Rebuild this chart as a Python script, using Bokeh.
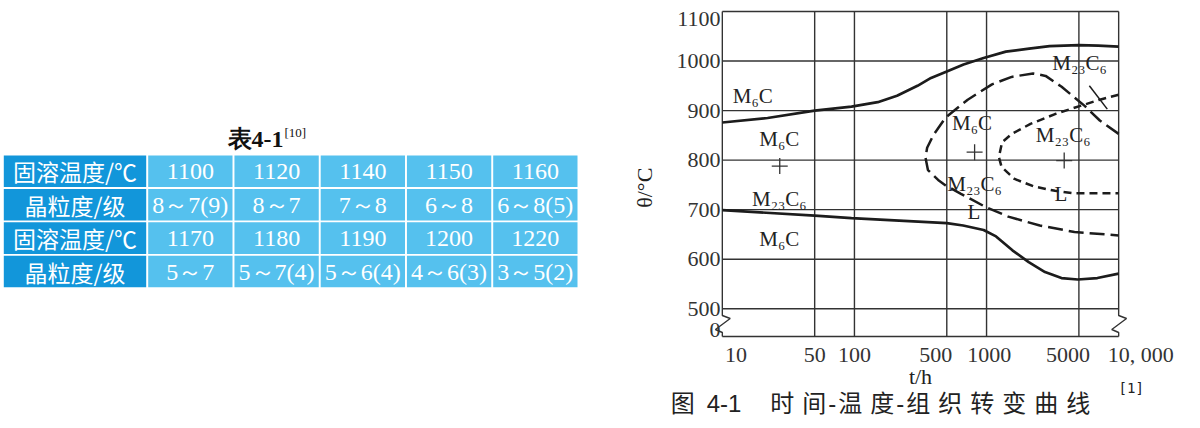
from bokeh.plotting import figure
from bokeh.layouts import row
from bokeh.models import Range1d, FixedTicker, LogAxis
from bokeh.core.properties import value
from bokeh.embed import file_html
from bokeh.resources import INLINE

# ---------------- table data ----------------
table_title = "表4-1"
table_ref = "[10]"
row_headers = ["固溶温度/℃", "晶粒度/级", "固溶温度/℃", "晶粒度/级"]
temps_a = [1100, 1120, 1140, 1150, 1160]
grain_a = ["8～7(9)", "8～7", "7～8", "6～8", "6～8(5)"]
temps_b = [1170, 1180, 1190, 1200, 1220]
grain_b = ["5～7", "5～7(4)", "5～6(4)", "4～6(3)", "3～5(2)"]

# ---------------- chart data ----------------
x_ticks = [10, 50, 100, 500, 1000, 5000, 10000]
x_tick_labels = ["10", "50", "100", "500", "1000", "5000", "10, 000"]
y_ticks = [500, 600, 700, 800, 900, 1000, 1100]
y_floor = 444          # bottom of the broken axis
y_floor_label = "0"

upper_t = [10, 22, 50, 95, 150, 210, 300, 380, 500, 670, 950, 1400, 2100, 3000, 5000, 7000, 10000]
upper_T = [876, 885, 900, 908, 917, 930, 950, 966, 979, 993, 1006, 1019, 1025, 1030, 1032, 1031, 1029]

lower_t = [10, 50, 95, 500, 665, 950, 1180, 1570, 2085, 2770, 3690, 4900, 6900, 10000]
lower_T = [699, 688, 683, 673, 668, 659, 646, 618, 594, 574, 562, 559, 562, 571]

cshape_t = [10000, 7200, 5500, 3700, 2800, 2250, 1550, 1100, 720, 490, 395, 355, 345, 360, 430, 490, 640, 990, 1460, 2530, 4630, 10000]
cshape_T = [853, 880, 910, 948, 970, 975, 968, 953, 922, 886, 850, 825, 805, 780, 760, 749, 732, 705, 686, 668, 655, 648]

inner_t = [10000, 7200, 5200, 3300, 2150, 1550, 1310, 1240, 1300, 1630, 2270, 3300, 4600, 7000, 10000]
inner_T = [932, 922, 910, 893, 873, 853, 836, 806, 786, 762, 747, 738, 733, 733, 733]

pointer_t = [6000, 8200]
pointer_T = [950, 903]

label_text = ["M₆C", "M₆C", "M₂₃C₆", "M₆C", "M₆C", "M₂₃C₆", "L", "M₂₃C₆", "L", "M₂₃C₆"]
label_t = [17, 27, 27, 27, 776, 812, 804, 3800, 3650, 5060]
label_T = [930, 842, 722, 641, 875, 751, 695, 851, 732, 996]

cross_t = [27.2, 812, 3870]
cross_T = [788, 816, 799]

caption = ("图\u20024-1\u3000\u2009时\u2004间\u200a-\u200a温\u2004度\u200a-\u200a"
           "组\u2004织\u2004转\u2004变\u2004曲\u2004线")
caption_ref = "[1]"

# ---------------- shared layout ----------------
FIG_H = 428
BORDER_TOP = 9
BORDER_BOTTOM = 90
TAB_W, CHART_W = 628, 572
frame_top_page = BORDER_TOP
frame_bot_page = FIG_H - BORDER_BOTTOM
NB = "\u00a0"

# ================= table figure (page-pixel coordinates) =================
tab = figure(width=TAB_W, height=FIG_H,
             x_range=Range1d(0, TAB_W),
             y_range=Range1d(frame_bot_page, frame_top_page),
             output_backend="svg", toolbar_location=None,
             min_border_left=0, min_border_right=0,
             min_border_top=BORDER_TOP, min_border_bottom=BORDER_BOTTOM)
tab.axis.visible = False
tab.grid.visible = False
tab.outline_line_color = None

head_l, head_r = 3.3, 145.7
data_left = 147.7
pitch_x = 86.25
cell_w = 84.3
top = 155.0
pitch_y = 33.4
cell_h = 31.6

rows_vals = [[str(v) for v in temps_a], grain_a, [str(v) for v in temps_b], grain_b]
cx, cy, cw, cc = [], [], [], []
hx, hy, ht = [], [], []
dx, dy, dt = [], [], []
for r in range(4):
    yc = top + r * pitch_y + cell_h / 2
    cx.append((head_l + head_r) / 2); cy.append(yc); cw.append(head_r - head_l); cc.append("#1296DA")
    hx.append((head_l + head_r) / 2); hy.append(yc); ht.append(row_headers[r])
    for c in range(5):
        xc = data_left + c * pitch_x + cell_w / 2
        cx.append(xc); cy.append(yc); cw.append(cell_w); cc.append("#55C1EE")
        dx.append(xc); dy.append(yc); dt.append(rows_vals[r][c])

tab.rect(x=cx, y=cy, width=cw, height=cell_h, fill_color=cc, line_color=None)
tab.text(x=hx, y=hy, text=ht, text_font=value("Noto Sans CJK SC"), text_font_size="23px",
         text_color="white", text_align="center", text_baseline="middle")
tab.text(x=dx, y=dy, text=dt, text_font=value("Liberation Serif"), text_font_size="24px",
         text_color="white", text_align="center", text_baseline="middle")
tab.text(x=[283], y=[138], text=[table_title], text_font=value("Liberation Serif"),
         text_font_size="24px", text_font_style="bold", text_color="#111",
         text_align="right", text_baseline="middle")
tab.text(x=[284], y=[132], text=[table_ref], text_font=value("Liberation Serif"),
         text_font_size="13px", text_color="#111", text_align="left", text_baseline="middle")

# ================= chart figure =================
DEC_PX = 403 / 3.0
PAD = 10
UPP = 2.016   # temperature units per pixel
pad_dec = PAD / DEC_PX
x_lo, x_hi = x_ticks[0], x_ticks[-1]
y_top = y_ticks[-1]

p = figure(width=CHART_W, height=FIG_H, x_axis_type="log",
           x_range=Range1d(x_lo * 10 ** (-pad_dec), x_hi * 10 ** pad_dec),
           y_range=Range1d(y_floor - 2 * UPP, y_top + 2 * UPP),
           output_backend="svg", toolbar_location=None,
           min_border_left=77, min_border_right=72,
           min_border_top=BORDER_TOP, min_border_bottom=BORDER_BOTTOM)
p.grid.visible = False
p.outline_line_color = None

ink = "#1c1c1c"
grid_c = "#333333"

n_h = len(y_ticks) + 1
p.segment(x0=[x_lo] * n_h, x1=[x_hi] * n_h, y0=y_ticks + [y_floor], y1=y_ticks + [y_floor],
          line_color=grid_c, line_width=1.4)
inner_x = x_ticks[1:-1]
p.segment(x0=inner_x, x1=inner_x, y0=[y_floor] * len(inner_x), y1=[y_top] * len(inner_x),
          line_color=grid_c, line_width=1.4)
brk = [(0, 21), (8, 18), (-7, 7), (0, 4), (0, 0)]
for xb in (x_lo, x_hi):
    bx = [xb] + [xb * 10 ** (d / DEC_PX) for d, _ in brk]
    by = [y_top] + [y_floor + h * UPP for _, h in brk]
    p.line(bx, by, line_color=grid_c, line_width=1.4)

p.line(upper_t, upper_T, line_color=ink, line_width=2.7)
p.line(lower_t, lower_T, line_color=ink, line_width=2.7)
p.line(cshape_t, cshape_T, line_color=ink, line_width=2.5, line_dash="15 6")
p.line(inner_t, inner_T, line_color=ink, line_width=2.5, line_dash="8 5")
p.line(pointer_t, pointer_T, line_color=ink, line_width=1.5)

p.scatter(cross_t, cross_T, marker="cross", size=16, line_color="#333", line_width=1.3)
p.text(x=label_t, y=label_T, text=label_text, text_font=value("Liberation Serif"),
       text_font_size="21px", text_color="#222", text_align="center", text_baseline="middle")

# ---- axes ----
x_label_shift = {10: 5, 500: -4, 1000: 1, 5000: -4, 10000: 8}   # nbsp padding (label placement)
def pad_label(t, lab):
    n = x_label_shift.get(t, 0)
    return NB * n + lab if n > 0 else lab + NB * (-n)
p.xaxis.ticker = FixedTicker(ticks=x_ticks)
p.xaxis.major_label_overrides = {t: pad_label(t, l) for t, l in zip(x_ticks, x_tick_labels)}

# y tick labels: the bottom "0" sits a little above the broken-axis floor,
# the top "1100" sits just below the top border (as in the original figure)
floor_lab_y = y_floor + 7 * UPP
top_lab_y = y_top - 8 * UPP
p.yaxis.ticker = FixedTicker(ticks=[floor_lab_y] + y_ticks[:-1] + [top_lab_y])
p.yaxis.major_label_overrides = {floor_lab_y: y_floor_label, top_lab_y: str(y_top)}

def style_axis(ax, label_size="22px", label_font="Liberation Serif"):
    ax.axis_line_color = None
    ax.major_tick_line_color = None
    ax.minor_tick_line_color = None
    ax.major_tick_out = 0
    ax.major_tick_in = 0
    ax.major_label_text_font = "Liberation Serif"
    ax.major_label_text_font_size = "22px"
    ax.major_label_text_color = "#333"
    ax.axis_label_text_font = label_font
    ax.axis_label_text_font_size = label_size
    ax.axis_label_text_font_style = "normal"
    ax.axis_label_text_color = "#222"

style_axis(p.xaxis[0]); style_axis(p.yaxis[0])
p.xaxis.major_label_standoff = 3
p.xaxis.axis_label = "t/h"
p.xaxis.axis_label_standoff = -6
p.yaxis.major_label_standoff = -8
p.yaxis.axis_label = "θ/°C" + NB * 5
p.yaxis.axis_label_standoff = 17

# figure caption, carried by an empty axis below the t/h label
cap_axis = LogAxis(ticker=FixedTicker(ticks=[]), axis_label=caption + NB * 12,
                   axis_label_standoff=-2)
style_axis(cap_axis, label_size="24px", label_font="Liberation Sans, Noto Sans CJK SC")
p.add_layout(cap_axis, "below")

# reference mark of the caption, raised over the caption line
ref_axis = LogAxis(ticker=FixedTicker(ticks=[]), axis_label=NB * 50 + caption_ref,
                   axis_label_standoff=-40)
style_axis(ref_axis, label_size="14px", label_font="DejaVu Sans Mono")
p.add_layout(ref_axis, "below")

layout = row(tab, p)
open("out.html", "w").write(file_html(layout, INLINE))
